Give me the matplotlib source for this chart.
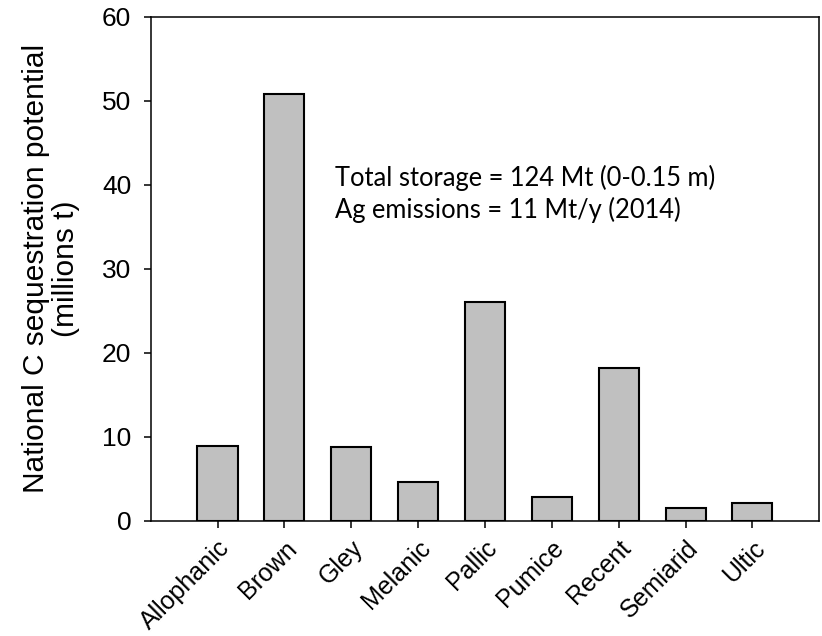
import matplotlib

matplotlib.use("Agg")
import matplotlib.pyplot as plt

# Soil orders and national C sequestration potential (millions t)
soil_orders = ["Allophanic", "Brown", "Gley", "Melanic", "Pallic",
               "Pumice", "Recent", "Semiarid", "Ultic"]
potential = [8.95, 50.85, 8.8, 4.55, 26.0, 2.85, 18.2, 1.55, 2.07]
y_ticks = [0, 10, 20, 30, 40, 50, 60]
note_lines = ["Total storage = 124 Mt (0-0.15 m)",
              "Ag emissions = 11 Mt/y (2014)"]

plt.rcParams["font.family"] = ["Liberation Sans", "DejaVu Sans"]

fig = plt.figure(figsize=(8.22, 6.36), dpi=100)
fig.patch.set_facecolor("white")
ax = fig.add_axes([0.1833, 0.1813, 0.8134, 0.7920])

x = list(range(len(soil_orders)))
ax.bar(x, potential, width=0.6, color="#c0c0c0", edgecolor="black",
       linewidth=1.5, zorder=2)

ax.set_xlim(-1, 9)
ax.set_ylim(0, 60)
ax.set_yticks(y_ticks)
ax.set_xticks(x)
ax.set_xticklabels(soil_orders, rotation=45, ha="right", va="top",
                   rotation_mode="anchor", fontsize=18)
ax.tick_params(axis="y", labelsize=19, length=5, width=1.1, pad=9)
ax.tick_params(axis="x", length=5, width=1.1, pad=6)
for s in ax.spines.values():
    s.set_linewidth(1.1)

ax.set_ylabel("National C sequestration potential\n(millions t)", fontsize=21.5,
              linespacing=1.12)
ax.yaxis.label.set_va("center")
ax.yaxis.set_label_coords(-0.149, 0.5)

note_font = ["Lato", "DejaVu Sans"]
ax.text(1.755, 39.9, note_lines[0], fontsize=18.4, family=note_font,
        va="baseline", ha="left")
ax.text(1.755, 36.05, note_lines[1], fontsize=18.4, family=note_font,
        va="baseline", ha="left")

fig.savefig("out.png", dpi=100, facecolor="white")
plt.close(fig)
